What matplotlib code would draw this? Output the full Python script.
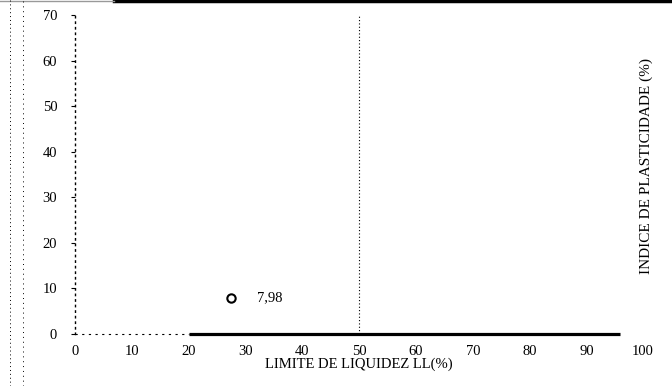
import matplotlib
matplotlib.use('Agg')
import matplotlib.pyplot as plt
from matplotlib.lines import Line2D

# valores da amostra (carta de plasticidade)
ll = [27.5]
ip = [7.98]
rotulos = ['7,98']

xticks = [0, 10, 20, 30, 40, 50, 60, 70, 80, 90, 100]
yticks = [0, 10, 20, 30, 40, 50, 60, 70]

# linhas de referencia
linha_b = 50          # LL = 50
base_fina = [0, 20]
base_grossa = [20, 96]

plt.rcParams['font.family'] = ['Liberation Serif', 'DejaVu Serif']

fig = plt.figure(figsize=(6.72, 3.86), dpi=100)
ax = fig.add_axes([0.112, 0.135, 0.845, 0.826])
ax.set_xlim(0, 100)
ax.set_ylim(0, 70)

ax.spines['top'].set_visible(False)
ax.spines['right'].set_visible(False)
ax.spines['bottom'].set_visible(False)
ax.spines['left'].set_linestyle((0, (1, 3)))
ax.spines['left'].set_linewidth(1.0)

ax.plot(base_fina, [0, 0], color='k', lw=0.8, ls=(0, (2, 4)), clip_on=False)
ax.plot(base_grossa, [0, 0], color='k', lw=2.3, solid_capstyle='butt', clip_on=False)
ax.plot([linha_b, linha_b], [0, 70], color='k', lw=0.8, ls=(0, (1, 2)))

ax.plot(ll, ip, 'o', mfc='white', mec='k', mew=1.5, ms=6)
for x, y, t in zip(ll, ip, rotulos):
    ax.text(x + 4.5, y, t, fontsize=10.5, va='center', ha='left')

ax.set_xticks(xticks)
ax.set_yticks(yticks)
ax.tick_params(axis='x', length=0, pad=8, labelsize=10.5)
ax.tick_params(axis='y', length=3, width=0.8, pad=10, labelsize=10.5)
ax.set_xlabel('LIMITE DE LIQUIDEZ LL(%)', fontsize=10.5, labelpad=0)

fig.text(0.962, 0.57, 'INDICE DE PLASTICIDADE (%)', rotation=90,
         fontsize=11, ha='center', va='center')

# bordas da folha digitalizada
fig.add_artist(Line2D([0.17, 1.0], [0.997, 0.997], color='k', lw=2.5))
fig.add_artist(Line2D([0.0, 0.17], [0.997, 0.997], color='0.6', lw=1))
fig.add_artist(Line2D([0.015, 0.015], [0.0, 1.0], color='k', lw=0.7, ls=(0, (1, 3))))
fig.add_artist(Line2D([0.034, 0.034], [0.0, 1.0], color='k', lw=0.7, ls=(0, (1, 4))))

fig.savefig('out.png', dpi=100)
